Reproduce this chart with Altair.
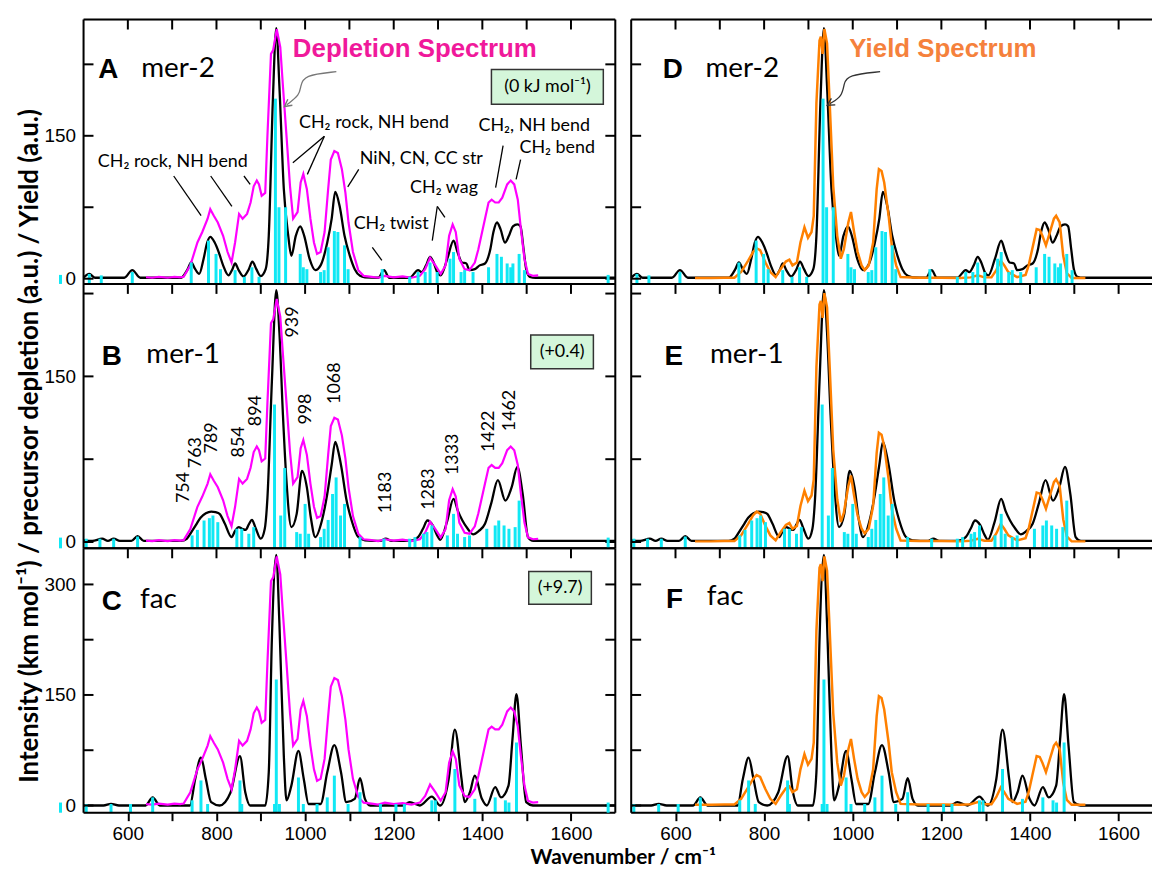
import altair as alt
import pandas as pd

# ---------------- data ----------------
# computed spectra (black), wavenumber / intensity (km/mol)
CALC_MER2 = [(500,1),(513,5),(526,1),(592,1),(610,9),(628,1),(720,1),(735,10),(743,17),(752,10),(761,5),(771,21),(779,38),(786,44),(796,38),(805,28),(815,14),(827,3.5),(836,10),(842,16),(850,9),(861,2.4),(873,10),(881,18),(890,10),(900,2.8),(911,10),(918,45),(927,184),(935,263),(942,202),(952,94),(962,45),(969,24),(979,45),(989,55),(998,45),(1010,21),(1023,9),(1035,14),(1050,38),(1060,63),(1068,91),(1078,76),(1089,45),(1101,24),(1112,10),(1124,3),(1135,1.5),(1165,1),(1178,9),(1190,1),(1236,1),(1255,9),(1263,7),(1273,14),(1282,23),(1290,17),(1299,6),(1306,3.5),(1321,21),(1335,40),(1344,28),(1354,17),(1364,16),(1371,9),(1383,10),(1394,14),(1406,16),(1418,31),(1425,49),(1433,59),(1441,52),(1451,38),(1460,45),(1469,55),(1479,57),(1486,55),(1493,31),(1499,10),(1507,2),(1520,1),(1700,1)]
CALC_MER1 = [(500,1.5),(520,1),(542,3),(555,1),(568,3),(582,1),(608,1),(622,5.4),(636,1),(720,1),(733,3),(741,7.5),(753,15),(764,22),(776,26),(788,27.6),(798,27),(807,25.5),(819,16.5),(834,4.5),(842,10),(850,13.5),(858,12),(866,11),(873,16),(880,20),(888,13),(900,3),(909,12),(915,40),(925,145),(935,228),(942,190),(950,115),(958,55),(969,13.5),(981,25.5),(993,64.5),(1004,49.5),(1013,22),(1023,4.5),(1038,19.5),(1050,43.5),(1060,70),(1068,90.6),(1076,80),(1082,67.5),(1093,39),(1105,19.5),(1120,4.5),(1135,1.5),(1170,1),(1182,3),(1195,1),(1236,1),(1255,4.5),(1266,12),(1276,19.5),(1288,15),(1298,6),(1305,2),(1320,18),(1335,39),(1345,28),(1355,19.5),(1367,12),(1379,7),(1392,10),(1406,16.5),(1420,35),(1435,56),(1452,37.5),(1466,49.5),(1479,68),(1491,43.5),(1503,4.5),(1515,1),(1700,1)]
CALC_FAC = [(500,0),(545,0),(562,2.3),(580,0),(640,0),(656,11),(672,0),(740,0),(752,36),(765,65),(776,36),(788,4.5),(807,0),(832,18),(853,67),(865,18),(876,0),(910,0),(918,45),(925,225),(935,340),(942,247),(952,67),(958,7),(969,27),(985,74),(997,36),(1008,2),(1035,2),(1050,45),(1066,82),(1081,45),(1093,4.5),(1112,9),(1124,37),(1135,9),(1147,0),(1220,0),(1236,4.5),(1259,0),(1286,12),(1305,0),(1324,36),(1338,103),(1353,36),(1360,4.5),(1372,18),(1383,40.5),(1399,9),(1410,0),(1429,25),(1442,11),(1459,27),(1468,90),(1477,151),(1487,81),(1499,4.5),(1514,0),(1700,0)]

# computed stick spectra (cyan)
STICK_MER2 = [(448,4),(513,5),(540,3.5),(610,7),(743,17),(782,40),(799,26),(809,10),(842,9),(863,2),(880,12),(896,2),(933,189),(941,75),(956,75),(989,26),(996,12),(1004,10),(1035,7),(1043,9),(1052,33),(1066,50),(1074,49),(1089,35),(1097,10),(1174,10),(1236,2),(1255,7),(1271,7),(1282,17),(1298,7),(1327,21),(1335,28),(1352,7),(1360,9),(1379,7),(1414,12),(1433,26),(1443,23),(1456,16),(1464,12),(1469,16),(1483,26),(1495,9)]
STICK_MER1 = [(448,4),(506,3),(537,3),(568,3),(622,5),(745,6),(757,11),(772,19.5),(784,21.6),(792,24),(803,18),(846,12),(857,12),(873,7.5),(884,13.5),(931,124.5),(945,24),(954,67),(981,9),(989,7.5),(1000,34.5),(1008,7.5),(1035,4.5),(1043,12),(1052,20),(1062,43.5),(1070,58.5),(1080,24),(1089,34.5),(1124,4.5),(1178,3),(1236,3),(1248,4.5),(1267,7.5),(1275,9),(1286,15),(1321,6),(1335,25.5),(1344,7.5),(1360,4.5),(1371,6),(1410,12),(1429,15),(1437,19.5),(1449,15),(1460,12),(1474,13.5),(1483,37.5)]
STICK_FAC = [(448,4),(506,2),(562,2),(606,2),(656,11),(745,7),(765,34),(780,2),(853,34),(857,2),(931,2),(935,171),(942,2),(985,38),(996,2),(1027,2),(1050,11),(1066,40.5),(1097,2),(1124,18),(1170,2),(1205,2),(1224,2),(1286,7),(1294,7),(1338,49.5),(1383,9),(1429,11),(1452,7),(1460,4),(1477,85.5)]

# experimental spectra (a.u.), as plotted in the top row
DEPLETION = [(641,1.5),(655,1),(670,2),(690,1),(705,2),(718,1.5),(726,2),(741,14),(757,38),(768,49),(780,63),(786,73),(794,66),(803,59),(815,45),(825,28),(834,17),(842,38),(851,68),(859,63),(869,68),(877,80),(884,97),(891,103),(896,99),(902,87),(910,90),(915,150),(923,236),(928,240),(936,262),(944,243),(950,202),(958,150),(966,97),(973,63),(983,70),(990,101),(996,110),(1004,94),(1012,63),(1020,38),(1027,26),(1035,28),(1044,49),(1052,94),(1058,125),(1066,134),(1074,132),(1083,115),(1091,90),(1098,59),(1108,28),(1120,9),(1132,3),(1150,2),(1165,1),(1180,3),(1200,1.5),(1220,2.5),(1240,1),(1259,3),(1271,10),(1282,22),(1294,14),(1306,5),(1317,14),(1325,45),(1333,57),(1340,49),(1348,21),(1360,10),(1371,9),(1383,17),(1391,31),(1406,63),(1414,80),(1421,83),(1429,80),(1437,80),(1445,85),(1456,99),(1464,103),(1472,99),(1480,83),(1487,52),(1495,21),(1503,5),(1514,3),(1526,3.5)]
YIELD = [(644,0.7),(680,0.7),(710,1),(733,1),(748,7),(764,19),(775,28),(783,32),(791,30),(803,17),(814,7),(826,1.7),(837,10),(849,18),(857,20),(864,14),(874,17),(882,38),(891,54),(899,43),(907,49),(912,66),(918,184),(925,250),(928,254),(932,236),(936,262),(942,247),(948,184),(956,97),(965,45),(973,21),(980,31),(990,59),(996,70),(1003,49),(1011,28),(1020,14),(1027,9),(1036,14),(1046,38),(1054,94),(1059,115),(1065,113),(1071,101),(1081,66),(1088,35),(1098,14),(1108,1.7),(1150,1),(1200,1),(1243,0.7),(1266,1.4),(1282,3.5),(1297,1.4),(1313,1.4),(1324,9),(1334,19),(1342,14),(1351,7),(1371,1.7),(1390,4),(1397,14),(1405,31),(1415,52),(1422,51),(1428,45),(1436,35),(1445,49),(1454,63),(1459,66),(1467,59),(1475,24),(1483,6),(1494,0.7),(1525,0.7)]
DEPLETION_SCALE = [1.0, 0.84, 1.29]
YIELD_SCALE = [1.0, 0.86, 1.29]

ISOMERS = ["mer-2", "mer-1", "fac"]
LEFT_LETTERS = ["A", "B", "C"]
RIGHT_LETTERS = ["D", "E", "F"]
ENERGIES = ["(0 kJ mol\u207b\u00b9)", "(+0.4)", "(+9.7)"]
Y_LABEL_VALUES = [[0, 150], [0, 150], [0, 150, 300]]
Y_TICK_VALUES = [[0, 75, 150, 225], [0, 75, 150, 225], [0, 75, 150, 225, 300]]
X_TICK_VALUES = [600, 700, 800, 900, 1000, 1100, 1200, 1300, 1400, 1500, 1600]

# mode annotations of panel A: (wavenumber, intensity, text)
MODE_TEXT = [(701.5, 122.4, "CH\u2082 rock, NH bend"), (1155.5, 163.4, "CH\u2082 rock, NH bend"),
             (1262.3, 125.1, "NiN, CN, CC str"), (1313.5, 95.6, "CH\u2082 wag"),
             (1194.3, 57.4, "CH\u2082 twist"), (1517.0, 160.0, "CH\u2082, NH bend"),
             (1569.0, 137.3, "CH\u2082 bend")]
MODE_LEADERS = [(703.5,107.8,765.3,66.1),(787,107.8,834.8,75.8),(862,107.8,876,99.1),
                (1043.5,149.5,972.4,121.7),(1043.5,149.5,1005,109.5),(1121,114.7,1096.3,96.3),
                (1298.3,75.8,1287,40),(1298.3,75.8,1315.5,64.3),(1151.7,33,1173.2,19.2),
                (1446.8,139.7,1430,95.6),(1486.3,125.1,1476.2,104.3)]
# assigned band positions of panel B: (wavenumber, intensity, text)
PEAK_TEXT = [(726.7,49.4,"754"),(753.8,80.9,"763"),(790,94.3,"789"),(850.3,90.7,"854"),
             (889,119,"894"),(971.7,199.2,"939"),(1001,120.4,"998"),(1066.6,143.8,"1068"),
             (1182.7,44.9,"1183"),(1279.2,48,"1283"),(1333.3,79.4,"1333"),(1414.5,100.3,"1422"),
             (1462.3,119.1,"1462")]
ENERGY_BOX = [(1420.5,1673,183.2,219.7),(1509.2,1650.6,156.9,187.5),(1504.7,1646,273,317.7)]
ENERGY_POS = [(1547,201.5),(1580,172.2),(1575.4,295.4)]
LETTER_POS_L = [(533.4,210.5),(541.3,160.6),(541.3,265.2)]
NAME_POS_L = [(630.2,211.4),(641.6,161.7),(627.7,267.9)]
LETTER_POS_R = [(571.1,210.3),(575,160.3),(578.8,267.9)]
NAME_POS_R = [(667.7,211.4),(677.8,161.7),(670.5,271.9)]
ARROW_L = [(1070.5,217.3),(997,213.8),(989.5,201.7),(988,192.9),(958.5,182.5)]
ARROW_R = [(1061.8,217.3),(988.4,213.8),(980,205),(976.7,191.6),(948,183.6)]

Y_DOMAINS = [[-5.5, 272], [-5.7, 233.7], [-9.8, 349]]
CALCS = [CALC_MER2, CALC_MER1, CALC_FAC]
STICKS = [STICK_MER2, STICK_MER1, STICK_FAC]

# ---------------- style ----------------
W, H = 535, 266
X_DOM = [500, 1700]
CYAN = "#10E8F4"
MAGENTA = "#FF00FF"
ORANGE = "#FF8000"
SANS = "Liberation Sans"
CAL = "Lato"
CHEVRON = "M -0.8 0.9 L 0 -0.6 L 0.8 0.9"
ONE = pd.DataFrame({"k": [0]})


def panel(row, col):
    left = col == 0
    xsc = alt.Scale(domain=X_DOM, nice=False, zero=False)
    ysc = alt.Scale(domain=Y_DOMAINS[row], nice=False, zero=False)
    if row == 2:
        xax = alt.Axis(values=X_TICK_VALUES, format="d",
                       labelExpr="datum.value % 200 == 0 ? datum.label : ''",
                       tickSize=8, tickWidth=2, tickColor="black", domain=False, grid=False,
                       labelFont=SANS, labelFontSize=19, labelPadding=4, labelColor="black",
                       labelOverlap=False, title=None)
    else:
        xax = None
    if left:
        yax = alt.Axis(values=Y_LABEL_VALUES[row], ticks=False, tickSize=0, domain=False,
                       grid=False, labelFont=SANS, labelFontSize=19, labelPadding=8,
                       labelColor="black", title=None)
    else:
        yax = None

    def X(f):
        return alt.X(f, type="quantitative", scale=xsc, axis=xax)

    def Y(f):
        return alt.Y(f, type="quantitative", scale=ysc, axis=yax)

    layers = []
    calc = pd.DataFrame(CALCS[row], columns=["wn", "I"])
    layers.append(alt.Chart(calc).mark_line(color="black", strokeWidth=2.3,
                  interpolate="monotone").encode(x=X("wn"), y=Y("I")))
    exp = pd.DataFrame(DEPLETION if left else YIELD, columns=["wn", "I"])
    exp["I"] = exp["I"] * (DEPLETION_SCALE if left else YIELD_SCALE)[row]
    layers.append(alt.Chart(exp).mark_line(color=MAGENTA if left else ORANGE,
                  strokeWidth=2.2 if left else 2.5).encode(x=X("wn"), y=Y("I")))
    st = pd.DataFrame(STICKS[row], columns=["wn", "I"])
    layers.append(alt.Chart(st).mark_rule(color=CYAN, strokeWidth=3).encode(
        x=X("wn"), y=Y("I"), y2=alt.value(H)))

    # panel letter and isomer name
    lp = (LETTER_POS_L if left else LETTER_POS_R)[row]
    npos = (NAME_POS_L if left else NAME_POS_R)[row]
    letter = (LEFT_LETTERS if left else RIGHT_LETTERS)[row]
    layers.append(alt.Chart(pd.DataFrame([(lp[0], lp[1], letter)], columns=["wn", "I", "t"]))
                  .mark_text(font=SANS, fontSize=28, fontWeight="bold", align="left",
                             baseline="alphabetic", color="black")
                  .encode(x=X("wn"), y=Y("I"), text="t:N"))
    layers.append(alt.Chart(pd.DataFrame([(npos[0], npos[1], ISOMERS[row])], columns=["wn", "I", "t"]))
                  .mark_text(font=CAL, fontSize=28, align="left", baseline="alphabetic", color="black")
                  .encode(x=X("wn"), y=Y("I"), text="t:N"))

    if left:
        b = ENERGY_BOX[row]
        layers.append(alt.Chart(pd.DataFrame([b], columns=["wn", "wn2", "I", "I2"]))
                      .mark_rect(fill="#D4F6DA", stroke="#333333", strokeWidth=1.5)
                      .encode(x=X("wn"), x2="wn2", y=Y("I"), y2="I2"))
        ep = ENERGY_POS[row]
        layers.append(alt.Chart(pd.DataFrame([(ep[0], ep[1], ENERGIES[row])], columns=["wn", "I", "t"]))
                      .mark_text(font=CAL, fontSize=18, align="center", baseline="middle", color="black")
                      .encode(x=X("wn"), y=Y("I"), text="t:N"))

    if row == 0:
        title = "Depletion Spectrum" if left else "Yield Spectrum"
        tpos = (972.4, 232.7) if left else (992.3, 232.9)
        layers.append(alt.Chart(pd.DataFrame([(tpos[0], tpos[1], title)], columns=["wn", "I", "t"]))
                      .mark_text(font=SANS, fontSize=26, fontWeight="bold", align="left",
                                 baseline="alphabetic", color="#F0199B" if left else "#F5813C")
                      .encode(x=X("wn"), y=Y("I"), text="t:N"))
        arr = pd.DataFrame(ARROW_L if left else ARROW_R, columns=["wn", "I"])
        arr["o"] = range(len(arr))
        acol = "#777777" if left else "#333333"
        layers.append(alt.Chart(arr).mark_line(color=acol, strokeWidth=1.3, interpolate="basis")
                      .encode(x=X("wn"), y=Y("I"), order="o:Q"))
        layers.append(alt.Chart(arr.tail(1)).mark_point(shape=CHEVRON, filled=False, size=90,
                      angle=233 if left else 239, color=acol, strokeWidth=1.4, opacity=1)
                      .encode(x=X("wn"), y=Y("I")))

    if row == 0 and left:
        layers.append(alt.Chart(pd.DataFrame(MODE_LEADERS, columns=["wn", "I", "wn2", "I2"]))
                      .mark_rule(color="black", strokeWidth=1.3)
                      .encode(x=X("wn"), y=Y("I"), x2="wn2", y2="I2"))
        layers.append(alt.Chart(pd.DataFrame(MODE_TEXT, columns=["wn", "I", "t"]))
                      .mark_text(font=CAL, fontSize=18, align="center", baseline="middle", color="black")
                      .encode(x=X("wn"), y=Y("I"), text="t:N"))
    if row == 1 and left:
        layers.append(alt.Chart(pd.DataFrame(PEAK_TEXT, columns=["wn", "I", "t"]))
                      .mark_text(font=CAL, fontSize=18, align="center", baseline="middle",
                                 angle=270, color="black")
                      .encode(x=X("wn"), y=Y("I"), text="t:N"))
        layers.append(alt.Chart(ONE).mark_text(
            text="Intensity (km mol\u207b\u00b9) / precursor depletion (a.u.) / Yield (a.u.)",
            font=CAL, fontSize=26, fontWeight="bold", angle=270, align="center",
            baseline="middle", color="black").encode(x=alt.value(-54), y=alt.value(163)))
    if row == 2 and left:
        layers.append(alt.Chart(ONE).mark_text(
            text="Wavenumber / cm\u207b\u00b9", font=CAL, fontSize=21, fontWeight="bold",
            align="center", baseline="middle", color="black")
            .encode(x=alt.value(543), y=alt.value(312)))

    # frame and inward ticks
    rule = dict(color="black", strokeWidth=2)
    layers.append(alt.Chart(ONE).mark_rule(**rule).encode(x=alt.value(0), x2=alt.value(W), y=alt.value(0)))
    layers.append(alt.Chart(ONE).mark_rule(**rule).encode(x=alt.value(0), x2=alt.value(W), y=alt.value(H)))
    layers.append(alt.Chart(ONE).mark_rule(**rule).encode(x=alt.value(0), y=alt.value(0), y2=alt.value(H)))
    layers.append(alt.Chart(ONE).mark_rule(**rule).encode(x=alt.value(W), y=alt.value(0), y2=alt.value(H)))
    layers.append(alt.Chart(pd.DataFrame({"t": X_TICK_VALUES})).mark_rule(**rule)
                  .encode(x=X("t"), y=alt.value(0), y2=alt.value(10)))
    yt = pd.DataFrame({"t": Y_TICK_VALUES[row]})
    layers.append(alt.Chart(yt).mark_rule(**rule).encode(y=Y("t"), x=alt.value(0), x2=alt.value(10)))
    layers.append(alt.Chart(yt).mark_rule(**rule).encode(y=Y("t"), x=alt.value(W - 10), x2=alt.value(W)))

    return alt.layer(*layers).properties(width=W, height=H)


panels = [panel(r, c) for r in range(3) for c in range(2)]
chart = (alt.concat(*panels, columns=2, spacing={"row": 0, "column": 16}, bounds="flush")
         .resolve_scale(x="independent", y="independent")
         .properties(padding={"left": 8, "top": 7, "right": -17, "bottom": -3})
         .configure_view(strokeWidth=0)
         .configure(background="white"))

chart.save("out.html", embed_options={"renderer": "svg", "actions": False})
